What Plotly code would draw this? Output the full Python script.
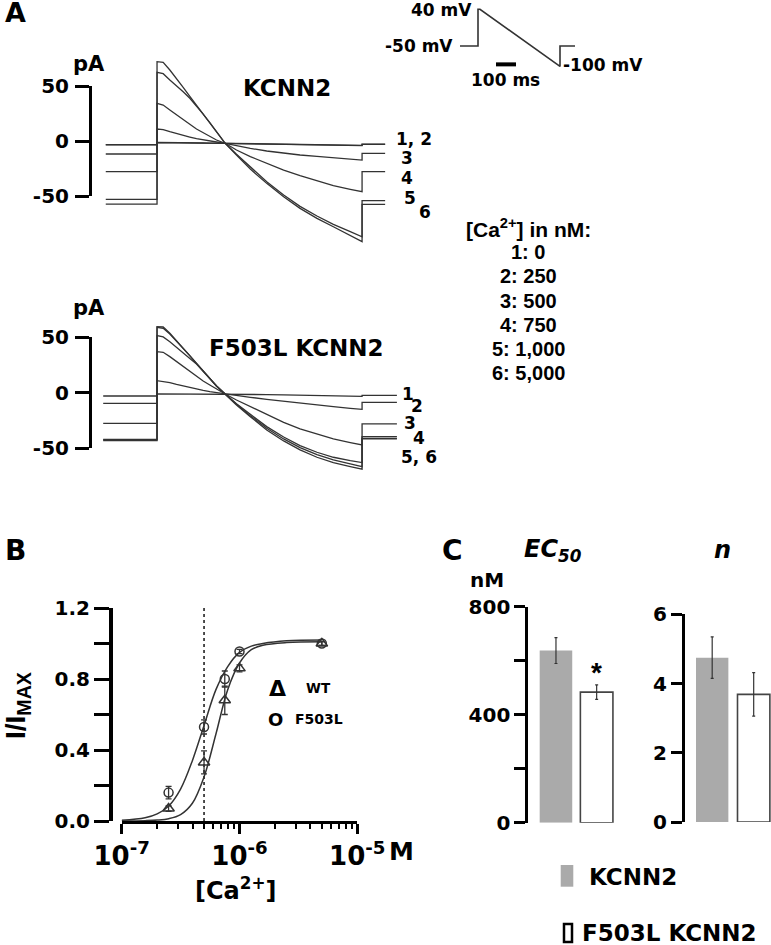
import plotly.graph_objects as go

W, H = 771, 945
def PX(x): return x / W
def PY(y): return 1 - y / H
def DX(l, r): return [PX(l), PX(r)]
def DY(top, bottom): return [PY(bottom), PY(top)]

DV = "DejaVu Sans"
LS = "Liberation Sans"

# ---------------- Panel A data (pA vs ms) ----------------
RAMP_T = [0, 12, 25, 38, 51, 64, 77, 90, 103, 116, 133, 155, 182, 214, 247, 279, 312, 344, 377, 400]
STEP2_T = 400

WT_T_START, WT_T_END = -100, 445
WT_PRE = [-3.6, -3.3, -11.8, -27.9, -53.0, -57.3]
WT_POST = [-3.0, -2.8, -11.2, -27.9, -54.2, -57.6]
WT_RAMP_1 = [-1.5, -1.5, -1.6, -1.7, -1.8, -1.9, -2.0, -2.0, -2.1, -2.1, -2.1, -2.3, -2.5, -2.7, -2.9, -3.1, -3.3, -3.5, -3.8, -4.2]
WT_RAMP_2 = [-1.2, -1.2, -1.3, -1.4, -1.5, -1.6, -1.7, -1.8, -1.9, -2.0, -2.1, -2.2, -2.4, -2.6, -2.8, -3.0, -3.2, -3.4, -3.6, -3.9]
WT_RAMP_3 = [10.9, 10.3, 8.5, 6.7, 5.2, 3.6, 2.1, 0.9, 0.0, -0.9, -2.1, -4.2, -6.7, -9.1, -11.2, -12.7, -13.9, -15.2, -16.4, -17.3]
WT_RAMP_4 = [34.2, 32.7, 28.2, 23.6, 19.1, 15.2, 10.9, 7.6, 4.0, 0.9, -2.1, -8.2, -14.2, -20.3, -26.4, -31.5, -36.4, -40.6, -43.9, -46.1]
WT_RAMP_5 = [62.4, 61.2, 55.5, 50.3, 44.8, 38.8, 32.1, 24.5, 16.7, 8.5, -2.1, -12.1, -23.9, -37.0, -49.1, -59.4, -68.2, -75.8, -82.4, -87.0]
WT_RAMP_6 = [72.1, 71.5, 64.5, 57.0, 48.8, 40.6, 32.7, 24.5, 16.7, 8.5, -2.1, -12.7, -25.5, -38.5, -50.6, -61.2, -70.3, -77.9, -85.5, -91.5]

MUT_T_START, MUT_T_END = -105, 468
MUT_PRE = [-2.9, -9.5, -27.5, -42.0, -42.5, -43.2]
MUT_POST = [-2.3, -8.6, -28.1, -39.5, -41.0, -41.6]
MUT_RAMP_1 = [-1.0, -1.0, -1.0, -1.0, -1.0, -1.0, -1.0, -1.0, -1.1, -1.1, -1.1, -1.2, -1.4, -1.6, -1.8, -2.0, -2.2, -2.5, -2.8, -3.2]
MUT_RAMP_2 = [10.9, 10.3, 9.1, 7.6, 6.1, 4.6, 3.4, 2.2, 1.0, 0.1, -1.1, -2.3, -4.1, -5.9, -7.7, -9.5, -11.0, -12.5, -14.0, -14.9]
MUT_RAMP_3 = [37.1, 36.5, 32.6, 28.1, 23.6, 19.0, 14.5, 10.6, 7.0, 3.4, -1.1, -6.5, -12.5, -19.9, -26.6, -32.6, -37.4, -41.6, -44.9, -47.0]
MUT_RAMP_4 = [51.5, 50.3, 46.0, 41.2, 36.1, 31.0, 25.9, 19.6, 13.0, 6.1, -1.1, -9.8, -19.4, -30.5, -39.8, -47.6, -53.6, -58.1, -61.1, -62.9]
MUT_RAMP_5 = [59.0, 58.1, 53.0, 46.7, 40.1, 33.5, 26.5, 19.6, 13.0, 6.1, -1.1, -10.4, -20.6, -32.0, -41.6, -49.4, -55.7, -60.5, -64.1, -66.5]
MUT_RAMP_6 = [59.6, 59.3, 53.6, 47.0, 40.1, 33.5, 26.5, 19.6, 13.0, 6.1, -1.1, -11.0, -21.5, -33.5, -43.4, -51.5, -58.1, -62.9, -66.5, -68.9]

SCALE_TICKS = [-50, 0, 50]
WT_LABELS = ["1, 2", "3", "4", "5", "6"]
MUT_LABELS = ["1", "2", "3", "4", "5, 6"]
TITLE_WT = "KCNN2"
TITLE_MUT = "F503L KCNN2"

# voltage protocol (ms, mV)
PROTO_T = [-90, 0, 0, 10, 410, 410, 485]
PROTO_MV = [-50, -50, 40, 40, -100, -50, -50]
PROTO_BAR_T = [90, 190]
PROTO_BAR_MV = [-95, -95]

CA_HEADER = "[Ca<sup>2+</sup>] in nM:"
CA_LABELS = ["1: 0", "2: 250", "3: 500", "4: 750", "5: 1,000", "6: 5,000"]

# ---------------- Panel B data ----------------
CA_M = [2.5e-7, 5e-7, 7.5e-7, 1e-6, 5e-6]
WT_MEAN = [0.07, 0.33, 0.68, 0.86, 1.0]
WT_ERR = [0.015, 0.065, 0.08, 0.02, 0.01]
MUT_MEAN = [0.16, 0.53, 0.80, 0.955, 1.0]
MUT_ERR = [0.035, 0.04, 0.045, 0.012, 0.01]
FIT_CA = [1e-7, 1.58e-7, 2e-7, 2.51e-7, 3.16e-7, 3.98e-7, 5.01e-7, 6.31e-7, 7.94e-7, 1e-6, 1.26e-6, 1.58e-6, 2.51e-6, 5e-6]
WT_FIT = [0.0, 0.002, 0.005, 0.013, 0.036, 0.10, 0.25, 0.49, 0.74, 0.89, 0.965, 0.99, 1.005, 1.01]
MUT_FIT = [0.004, 0.018, 0.04, 0.085, 0.18, 0.34, 0.54, 0.74, 0.87, 0.95, 0.985, 1.0, 1.015, 1.02]
VLINE_CA = 5e-7
B_YTICKS = [0, 0.4, 0.8, 1.2]
B_YTEXT = ["0.0", "0.4", "0.8", "1.2"]
B_YMINOR = [0.2, 0.6, 1.0]
B_XTICKS = [1e-7, 1e-6, 1e-5]
B_XTEXT = ["10<sup>-7</sup>", "10<sup>-6</sup>", "10<sup>-5</sup>"]
B_MINOR = [m * 10.0 ** e for e in (-7, -6) for m in range(2, 10)]

# ---------------- Panel C data ----------------
GROUPS = ["KCNN2", "F503L KCNN2"]
EC50_NM = [637, 483]
EC50_ERR = [48, 27]
HILL_N = [4.75, 3.69]
HILL_ERR = [0.6, 0.63]
BAR_FILL = ["#aaaaaa", "white"]
BAR_EDGE = ["#aaaaaa", "#444444"]
EC_TICKS = [0, 400, 800]
EC_MINOR = [200, 600]
N_TICKS = [0, 2, 4, 6]

TRACE_COLOR = "#333333"

fig = go.Figure()

def add_trace_set(t0, t1, pre, post, ramps, xa, ya):
    for i, ramp in enumerate(ramps):
        x = [t0, 0] + RAMP_T + [STEP2_T, t1]
        y = [pre[i], pre[i]] + ramp + [post[i], post[i]]
        fig.add_trace(go.Scatter(x=x, y=y, mode="lines", xaxis=xa, yaxis=ya,
                                 line=dict(color=TRACE_COLOR, width=1.3), hoverinfo="skip"))

add_trace_set(WT_T_START, WT_T_END, WT_PRE, WT_POST,
              [WT_RAMP_1, WT_RAMP_2, WT_RAMP_3, WT_RAMP_4, WT_RAMP_5, WT_RAMP_6], "x", "y")
add_trace_set(MUT_T_START, MUT_T_END, MUT_PRE, MUT_POST,
              [MUT_RAMP_1, MUT_RAMP_2, MUT_RAMP_3, MUT_RAMP_4, MUT_RAMP_5, MUT_RAMP_6], "x3", "y3")
# dummy traces to register scale-bar axes
fig.add_trace(go.Scatter(x=[None], y=[None], xaxis="x", yaxis="y2", mode="lines"))
fig.add_trace(go.Scatter(x=[None], y=[None], xaxis="x3", yaxis="y4", mode="lines"))

# protocol
fig.add_trace(go.Scatter(x=PROTO_T, y=PROTO_MV, mode="lines", xaxis="x5", yaxis="y5",
                         line=dict(color="#333333", width=1.6)))
fig.add_trace(go.Scatter(x=PROTO_BAR_T, y=PROTO_BAR_MV, mode="lines", xaxis="x5", yaxis="y5",
                         line=dict(color="black", width=4)))

# panel B
fig.add_trace(go.Scatter(x=[VLINE_CA, VLINE_CA], y=[0, 1.2], mode="lines", xaxis="x6", yaxis="y6",
                         line=dict(color="#222222", width=1.6, dash="dot")))
fig.add_trace(go.Scatter(x=FIT_CA, y=MUT_FIT, mode="lines", xaxis="x6", yaxis="y6",
                         line=dict(color="#333333", width=1.5, shape="spline")))
fig.add_trace(go.Scatter(x=FIT_CA, y=WT_FIT, mode="lines", xaxis="x6", yaxis="y6",
                         line=dict(color="#333333", width=1.5, shape="spline")))
fig.add_trace(go.Scatter(x=CA_M, y=WT_MEAN, mode="markers", xaxis="x6", yaxis="y6",
                         marker=dict(symbol="triangle-up-open", size=10, color="#333333", line=dict(width=1.5)),
                         error_y=dict(type="data", array=WT_ERR, color="#333333", thickness=1.3, width=3)))
fig.add_trace(go.Scatter(x=CA_M, y=MUT_MEAN, mode="markers", xaxis="x6", yaxis="y6",
                         marker=dict(symbol="circle-open", size=9, color="#333333", line=dict(width=1.5)),
                         error_y=dict(type="data", array=MUT_ERR, color="#333333", thickness=1.3, width=3)))

# panel C
fig.add_trace(go.Bar(x=GROUPS, y=EC50_NM, xaxis="x7", yaxis="y7", width=0.8,
                     marker=dict(color=BAR_FILL, line=dict(color=BAR_EDGE, width=[0, 1.6])),
                     error_y=dict(type="data", array=EC50_ERR, color="#333333", thickness=1.2, width=1.5)))
fig.add_trace(go.Bar(x=GROUPS, y=HILL_N, xaxis="x8", yaxis="y8", width=0.78,
                     marker=dict(color=BAR_FILL, line=dict(color=BAR_EDGE, width=[0, 1.6])),
                     error_y=dict(type="data", array=HILL_ERR, color="#333333", thickness=1.2, width=1.5)))

hidden = dict(visible=False, showgrid=False, zeroline=False, fixedrange=True, automargin=False)

def scale_axis(top, bottom, pos):
    return dict(domain=DY(top, bottom), range=[-50, 50], anchor="free", position=PX(pos),
                showline=True, linewidth=3, linecolor="black", ticks="outside", ticklen=14,
                tickwidth=3, tickcolor="black", tickvals=SCALE_TICKS, automargin=False,
                ticktext=[str(v) for v in SCALE_TICKS], showgrid=False, zeroline=False,
                tickfont=dict(family=DV, size=20, color="black", weight="bold"), ticklabelstandoff=2)

def val_axis(top, bottom, rng, tv, tt, ticklen, lw=3, minor_vals=None):
    d = dict(domain=DY(top, bottom), range=rng, showline=True, linewidth=lw, linecolor="black",
             ticks="outside", ticklen=ticklen, tickwidth=3, tickcolor="black", automargin=False,
             tickvals=tv, ticktext=tt, showgrid=False, zeroline=False,
             tickfont=dict(family=DV, size=20, color="black", weight="bold"))
    if minor_vals:
        d["minor"] = dict(tickvals=minor_vals, ticks="outside", ticklen=ticklen, tickwidth=3,
                          tickcolor="black", showgrid=False)
    return d

ax_B_y = val_axis(608, 821, [0, 1.2], B_YTICKS, B_YTEXT, 15, 3.5, B_YMINOR)
ax_B_y.update(anchor="free", position=PX(110))

fig.update_layout(
    width=W, height=H, autosize=False, margin=dict(l=0, r=0, t=0, b=0, pad=0, autoexpand=False),
    paper_bgcolor="white", plot_bgcolor="rgba(0,0,0,0)", showlegend=False,
    xaxis=dict(domain=DX(95, 400), range=[-121, 474], anchor="y", **hidden),
    yaxis=dict(domain=DY(50, 255), range=[-103.6, 82.7], anchor="x", **hidden),
    yaxis2=scale_axis(86, 196, 90),
    xaxis3=dict(domain=DX(95, 400), range=[-121, 474], anchor="y3", **hidden),
    yaxis3=dict(domain=DY(310, 480), range=[-78.6, 74.6], anchor="x3", **hidden),
    yaxis4=scale_axis(337.3, 448.3, 90),
    xaxis5=dict(domain=DX(455, 580), range=[-115, 510], anchor="y5", **hidden),
    yaxis5=dict(domain=DY(5, 70), range=[-108.8, 50.5], anchor="x5", **hidden),
    xaxis6=dict(domain=DX(121.7, 357.3), type="log", range=[-7, -5], anchor="y6",
                showline=True, linewidth=3, linecolor="black", ticks="outside", ticklen=10,
                tickwidth=3, tickcolor="black", tickvals=B_XTICKS, ticktext=B_XTEXT,
                showgrid=False, zeroline=False, automargin=False,
                tickfont=dict(family=DV, size=26, color="black", weight="bold"),
                minor=dict(tickvals=B_MINOR, ticks="outside", ticklen=5, tickwidth=2, tickcolor="black",
                           showgrid=False)),
    yaxis6=ax_B_y,
    xaxis7=dict(domain=DX(528.3, 617), range=[-0.68, 1.5], anchor="y7", type="category", **hidden),
    yaxis7=val_axis(606.5, 822.7, [0, 800], EC_TICKS, [str(v) for v in EC_TICKS], 11, 3, EC_MINOR),
    xaxis8=dict(domain=DX(685, 771), range=[-0.655, 1.417], anchor="y8", type="category", **hidden),
    yaxis8=val_axis(614.4, 822, [0, 6], N_TICKS, [str(v) for v in N_TICKS], 11),
)
fig.layout.yaxis7.anchor = "x7"
fig.layout.yaxis8.anchor = "x8"

def ann(text, x, y, size, family=DV, xanchor="center", yanchor="middle", angle=0, bold=True):
    t = f"<b>{text}</b>" if bold else text
    return dict(text=t, x=PX(x), y=PY(y), xref="paper", yref="paper", showarrow=False,
                xanchor=xanchor, yanchor=yanchor, textangle=angle,
                font=dict(family=family, size=size, color="black"))

anns = [
    ann("A", 15, 30, 27, yanchor="bottom"),
    ann("pA", 89, 64, 21),
    ann(TITLE_WT, 287, 88, 23),
    ann("pA", 89, 308, 21),
    ann(TITLE_MUT, 296, 348, 23),
    ann("40 mV", 474, 10, 17, xanchor="right"),
    ann("-50 mV", 455, 46, 17, xanchor="right"),
    ann("100 ms", 505, 80, 17),
    ann("-100 mV", 561, 65, 17, xanchor="left"),
    ann(CA_HEADER, 528, 228, 21, family=LS),
]
for i, lab in enumerate(CA_LABELS):
    anns.append(ann(lab, 528, 252 + i * 24.3, 20, family=LS))

wt_lab_pos = [(414, 138.5), (407, 158), (407, 178), (410, 198), (425, 212)]
for lab, (x, y) in zip(WT_LABELS, wt_lab_pos):
    anns.append(ann(lab, x, y, 17))
mut_lab_pos = [(408, 394), (417, 406), (410, 423), (419, 438), (419, 457)]
for lab, (x, y) in zip(MUT_LABELS, mut_lab_pos):
    anns.append(ann(lab, x, y, 17))

anns += [
    ann("B", 15, 550, 28),
    ann("I/I<sub>MAX</sub>", 17, 706, 28, family=LS, angle=-90),
    ann("M", 387, 851, 25, xanchor="left"),
    ann("[Ca<sup>2+</sup>]", 236, 889, 24),
    ann("Δ", 277, 688, 22),
    ann("WT", 318, 688, 13.5),
    ann("O", 275, 719, 18),
    ann("F503L", 319, 719, 14),
    ann("C", 452, 550, 28),
    ann("<i>EC<sub>50</sub></i>", 553, 550, 24),
    ann("<i>n</i>", 722, 550, 24),
    ann("nM", 487, 580, 20),
    ann(GROUPS[0], 586.7, 877, 23, xanchor="left"),
    ann(GROUPS[1], 580, 933, 23, xanchor="left"),
    dict(text="<b>*</b>", x=GROUPS[1], y=EC50_NM[1] + EC50_ERR[1], xref="x7", yref="y7",
         showarrow=False, yanchor="middle", yshift=12, font=dict(family=LS, size=28, color="black")),
]
fig.update_layout(annotations=anns)

fig.update_layout(shapes=[
    dict(type="rect", xref="paper", yref="paper", x0=PX(560.7), x1=PX(573.3), y0=PY(886.7), y1=PY(865),
         fillcolor="#aaaaaa", line=dict(width=0)),
    dict(type="rect", xref="paper", yref="paper", x0=PX(564), x1=PX(572), y0=PY(942), y1=PY(924),
         fillcolor="white", line=dict(color="black", width=2.5)),
])

fig.write_html("out.html", config={"displayModeBar": False, "staticPlot": True},
               post_script="document.body.style.margin='0px';")
